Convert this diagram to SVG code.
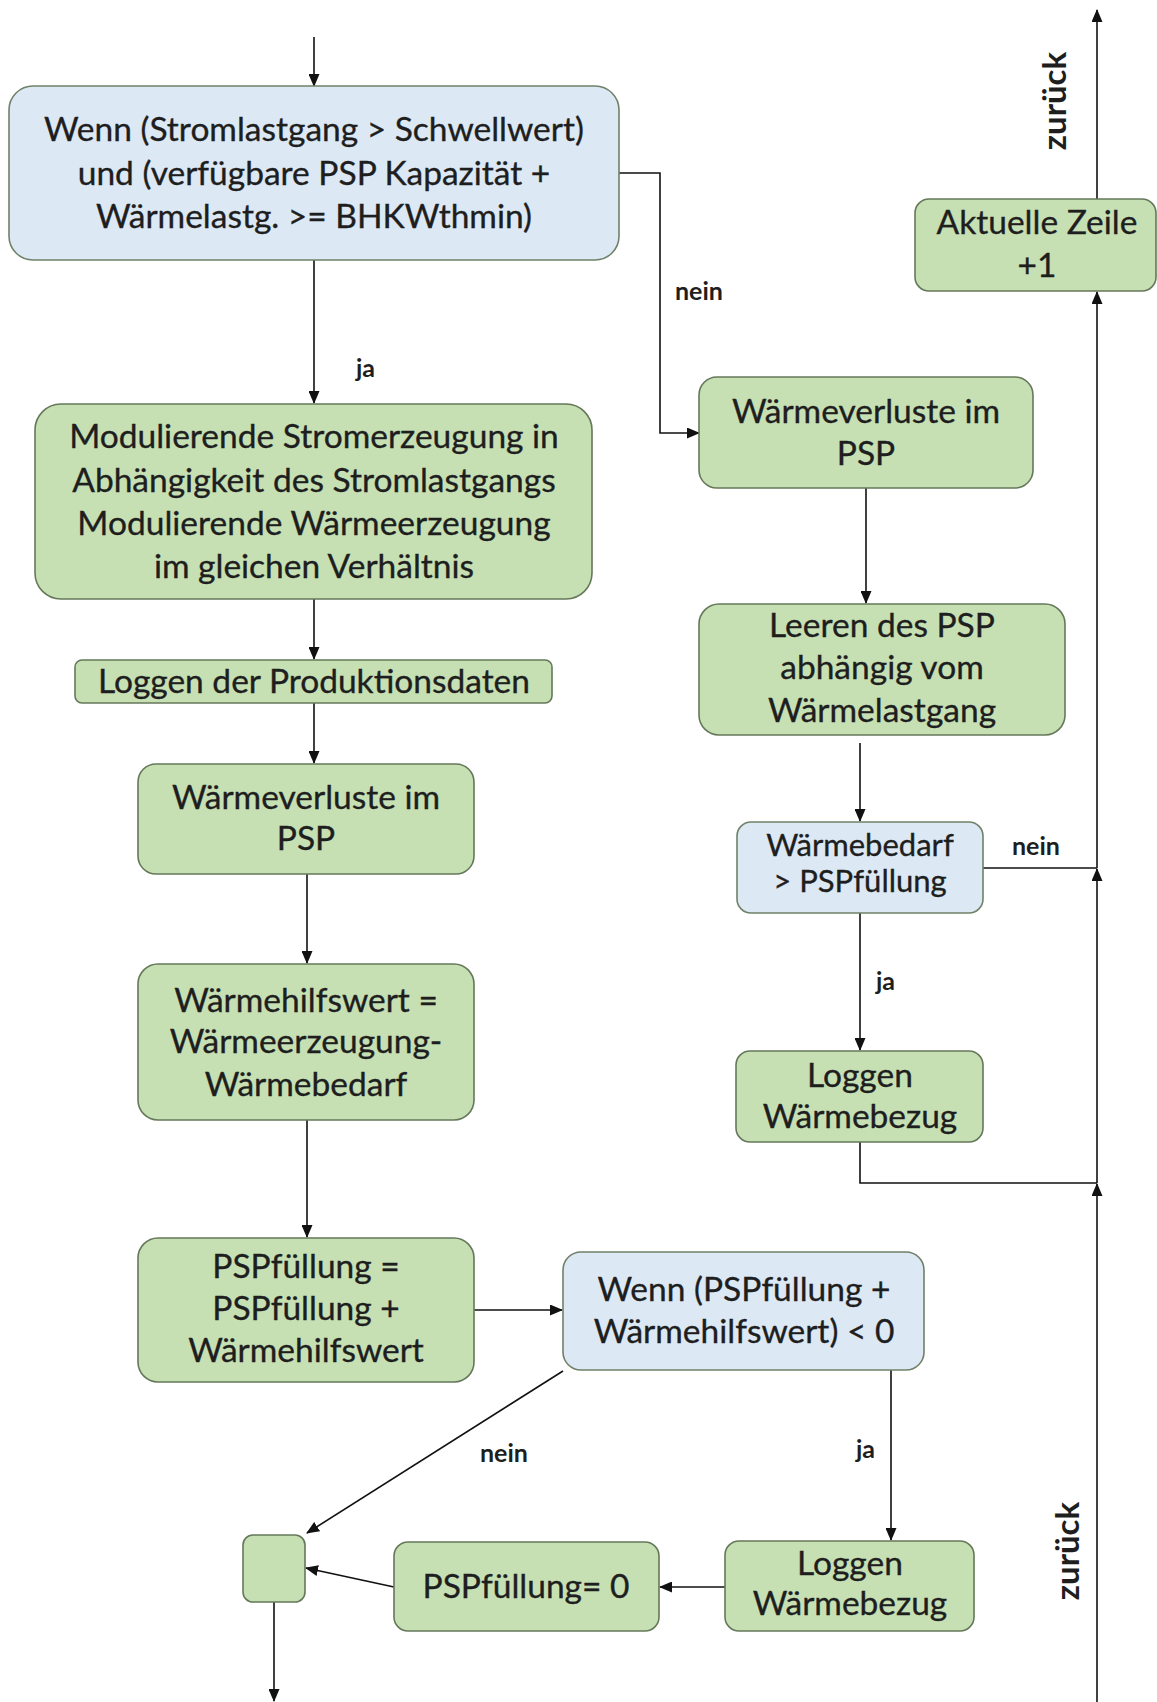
<svg xmlns="http://www.w3.org/2000/svg" width="1157" height="1702" viewBox="0 0 1157 1702">
<defs>
<style>
.g{fill:#c6e0b4;stroke:#65785a;stroke-width:1.6}
.b{fill:#dce9f5;stroke:#6f8168;stroke-width:1.6}
.t{font-family:Lato,"Liberation Sans",sans-serif;font-size:33.5px;fill:#1e1e1e;stroke:#1e1e1e;stroke-width:0.35;text-anchor:middle}
.s{font-size:31px}
.l{font-family:Lato,"Liberation Sans",sans-serif;font-size:25px;font-weight:bold;fill:#1e1e1e}
.z{font-size:33px;text-anchor:middle}
.c{fill:none;stroke:#111;stroke-width:1.6}
</style>
<marker id="a" markerWidth="13" markerHeight="11" refX="12" refY="5.5" orient="auto" markerUnits="userSpaceOnUse">
<path d="M0,0 L13,5.5 L0,11 Z" fill="#111"/>
</marker>
</defs>
<rect width="1157" height="1702" fill="#ffffff"/>

<g id="connectors">
<line class="c" x1="314" y1="37" x2="314" y2="86" marker-end="url(#a)"/>
<line class="c" x1="314" y1="260" x2="314" y2="403" marker-end="url(#a)"/>
<polyline class="c" points="619,173 660,173 660,433 699,433" marker-end="url(#a)"/>
<line class="c" x1="314" y1="599" x2="314" y2="659" marker-end="url(#a)"/>
<line class="c" x1="314" y1="703" x2="314" y2="763" marker-end="url(#a)"/>
<line class="c" x1="307" y1="874" x2="307" y2="963" marker-end="url(#a)"/>
<line class="c" x1="307" y1="1120" x2="307" y2="1237" marker-end="url(#a)"/>
<line class="c" x1="473" y1="1310" x2="562" y2="1310" marker-end="url(#a)"/>
<line class="c" x1="563" y1="1371" x2="307" y2="1533" marker-end="url(#a)"/>
<line class="c" x1="891" y1="1370" x2="891" y2="1540" marker-end="url(#a)"/>
<line class="c" x1="725" y1="1587" x2="660" y2="1587" marker-end="url(#a)"/>
<line class="c" x1="394" y1="1587" x2="306" y2="1568" marker-end="url(#a)"/>
<line class="c" x1="274" y1="1602" x2="274" y2="1701" marker-end="url(#a)"/>
<line class="c" x1="866" y1="488" x2="866" y2="603" marker-end="url(#a)"/>
<line class="c" x1="860" y1="743" x2="860" y2="821" marker-end="url(#a)"/>
<line class="c" x1="860" y1="913" x2="860" y2="1050" marker-end="url(#a)"/>
<line class="c" x1="983" y1="868" x2="1097" y2="868"/>
<polyline class="c" points="860,1142 860,1183 1097,1183"/>
<line class="c" x1="1097" y1="1702" x2="1097" y2="1184" marker-end="url(#a)"/>
<line class="c" x1="1097" y1="1183" x2="1097" y2="869" marker-end="url(#a)"/>
<line class="c" x1="1097" y1="868" x2="1097" y2="292" marker-end="url(#a)"/>
<line class="c" x1="1097" y1="199" x2="1097" y2="10" marker-end="url(#a)"/>
<text class="l" x="356" y="377">ja</text>
<text class="l" x="675" y="300">nein</text>
<text class="l" x="1012" y="855">nein</text>
<text class="l" x="876" y="990">ja</text>
<text class="l" x="480" y="1462">nein</text>
<text class="l" x="856" y="1458">ja</text>
<text class="l z" transform="translate(1066,101) rotate(-90)">zurück</text>
<text class="l z" transform="translate(1079,1551) rotate(-90)">zurück</text>
</g>

<g id="n1">
<rect class="b" x="9" y="86" width="610" height="174" rx="24"/>
<text class="t" x="314" y="141">Wenn (Stromlastgang &gt; Schwellwert)</text>
<text class="t" x="314" y="185">und (verfügbare PSP Kapazität +</text>
<text class="t" x="314" y="228">Wärmelastg. &gt;= BHKWthmin)</text>
</g>

<g id="n2">
<rect class="g" x="35" y="404" width="557" height="195" rx="26"/>
<text class="t" x="314" y="448">Modulierende Stromerzeugung in</text>
<text class="t" x="314" y="492">Abhängigkeit des Stromlastgangs</text>
<text class="t" x="314" y="535">Modulierende Wärmeerzeugung</text>
<text class="t" x="314" y="578">im gleichen Verhältnis</text>
</g>

<g id="n3">
<rect class="g" x="75" y="660" width="477" height="43" rx="7"/>
<text class="t" x="314" y="693">Loggen der Produktionsdaten</text>
</g>

<g id="n4">
<rect class="g" x="138" y="764" width="336" height="110" rx="18"/>
<text class="t" x="306" y="809">Wärmeverluste im</text>
<text class="t" x="306" y="850">PSP</text>
</g>

<g id="n5">
<rect class="g" x="138" y="964" width="336" height="156" rx="20"/>
<text class="t" x="306" y="1012">Wärmehilfswert =</text>
<text class="t" x="306" y="1053">Wärmeerzeugung-</text>
<text class="t" x="306" y="1096">Wärmebedarf</text>
</g>

<g id="n6">
<rect class="g" x="138" y="1238" width="336" height="144" rx="20"/>
<text class="t" x="306" y="1278">PSPfüllung =</text>
<text class="t" x="306" y="1320">PSPfüllung +</text>
<text class="t" x="306" y="1362">Wärmehilfswert</text>
</g>

<g id="n7">
<rect class="b" x="563" y="1252" width="361" height="118" rx="18"/>
<text class="t" x="744" y="1301">Wenn (PSPfüllung +</text>
<text class="t" x="744" y="1343">Wärmehilfswert) &lt; 0</text>
</g>

<g id="n8">
<rect class="g" x="725" y="1541" width="249" height="90" rx="14"/>
<text class="t" x="850" y="1575">Loggen</text>
<text class="t" x="850" y="1615">Wärmebezug</text>
</g>

<g id="n9">
<rect class="g" x="394" y="1542" width="265" height="89" rx="14"/>
<text class="t" x="526" y="1598">PSPfüllung= 0</text>
</g>

<g id="n10">
<rect class="g" x="243" y="1535" width="62" height="67" rx="10"/>
</g>

<g id="r1">
<rect class="g" x="699" y="377" width="334" height="111" rx="18"/>
<text class="t" x="866" y="423">Wärmeverluste im</text>
<text class="t" x="866" y="465">PSP</text>
</g>

<g id="r2">
<rect class="g" x="699" y="604" width="366" height="131" rx="20"/>
<text class="t" x="882" y="637">Leeren des PSP</text>
<text class="t" x="882" y="679">abhängig vom</text>
<text class="t" x="882" y="722">Wärmelastgang</text>
</g>

<g id="r3">
<rect class="b" x="737" y="822" width="246" height="91" rx="14"/>
<text class="t s" x="860" y="856">Wärmebedarf</text>
<text class="t s" x="860" y="892">&gt; PSPfüllung</text>
</g>

<g id="r4">
<rect class="g" x="736" y="1051" width="247" height="91" rx="14"/>
<text class="t" x="860" y="1087">Loggen</text>
<text class="t" x="860" y="1128">Wärmebezug</text>
</g>

<g id="r5">
<rect class="g" x="915" y="199" width="241" height="92" rx="14"/>
<text class="t" x="1037" y="234">Aktuelle Zeile</text>
<text class="t" x="1037" y="277">+1</text>
</g>
</svg>
